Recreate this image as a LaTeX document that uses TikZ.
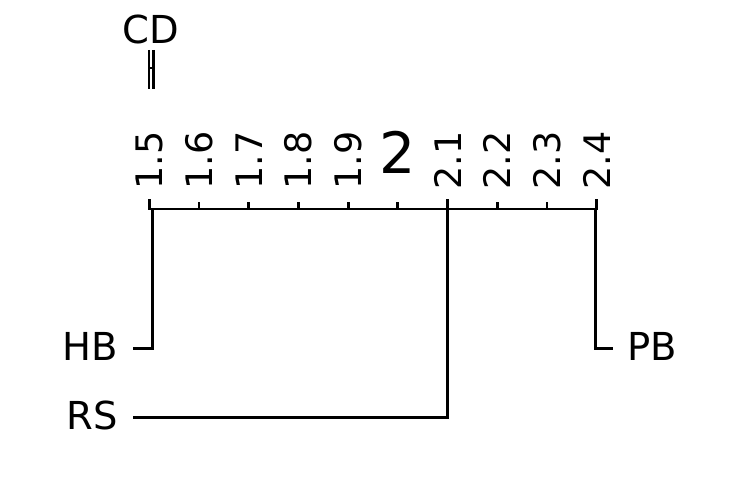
\documentclass[tikz,border=0pt]{standalone}
\usepackage{fontspec}
\setmainfont{DejaVu Sans}
\begin{document}
\begin{tikzpicture}[x=1pt,y=-1pt,
  rankline/.style={line width=3pt},
  tickline/.style={line width=2.8pt},
  cdtick/.style={line width=2.6pt},
  namelbl/.style={inner sep=0pt, font=\fontsize{38.5}{40}\selectfont},
  ticklbl/.style={inner sep=0pt, rotate=90, anchor=west, font=\fontsize{36.5}{38}\selectfont},
  biglbl/.style={inner sep=0pt, anchor=south, font=\fontsize{57}{58}\selectfont}]
\useasboundingbox (0,0) rectangle (746,487);

% CD bar
\node[namelbl, anchor=south] (cd) at (151,44) {CD};
\coordinate (cdl) at (149,68);
\coordinate (cdr) at (153.3,68);
\coordinate (cdlt) at (149,50);
\coordinate (cdlb) at (149,89);
\coordinate (cdrt) at (153.3,50);
\coordinate (cdrb) at (153.3,89);
\draw[line width=1.2pt] (cdl) -- (cdr);
\draw[cdtick] (cdlt) -- (cdlb);
\draw[cdtick] (cdrt) -- (cdrb);

% axis
\coordinate (a0) at (148,209);
\coordinate (a1) at (598,209);
\draw[tickline] (a0) -- (a1);
\foreach \i/\lab in {0/1.5,1/1.6,2/1.7,3/1.8,4/1.9,6/2.1,7/2.2,8/2.3,9/2.4} {
  \node[ticklbl] (t\i) at ({149.3+\i*49.7},189.5) {\lab};
}
\node[biglbl] (t5) at ({149.3+5*49.7},174) {2};
\foreach \i in {1,2,3,4,5,7,8} {
  \coordinate (tb\i) at ({149.3+\i*49.7},209);
  \coordinate (tt\i) at ({149.3+\i*49.7},202);
  \draw[tickline] (tb\i) -- (tt\i);
}
\foreach \i in {0,6,9} {
  \coordinate (tb\i) at ({149.3+\i*49.7},209);
  \coordinate (tt\i) at ({149.3+\i*49.7},199);
  \draw[tickline] (tb\i) -- (tt\i);
}

% methods
\node[namelbl, anchor=east] (HB) at (118,346) {HB};
\coordinate (hbt) at (152,209);
\coordinate (hbc) at (152,348);
\coordinate (hbe) at (133,348);
\draw[rankline] (hbt) -- (hbc) -- (hbe);

\node[namelbl, anchor=east] (RS) at (118,415) {RS};
\coordinate (rst) at (447.5,209);
\coordinate (rsc) at (447.5,417);
\coordinate (rse) at (133,417);
\draw[rankline] (rst) -- (rsc) -- (rse);

\node[namelbl, anchor=west] (PB) at (627,346) {PB};
\coordinate (pbt) at (595.5,209);
\coordinate (pbc) at (595.5,348);
\coordinate (pbe) at (613,348);
\draw[rankline] (pbt) -- (pbc) -- (pbe);
\end{tikzpicture}
\end{document}
